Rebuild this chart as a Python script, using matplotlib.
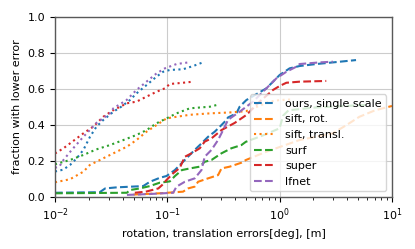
import numpy as np
import matplotlib
matplotlib.use("Agg")
import matplotlib.pyplot as plt

# rotation errors (dashed) per method
ours_rot_x = [0.01, 0.025, 0.028, 0.0355, 0.061, 0.070, 0.0857, 0.0984, 0.1167, 0.1432, 0.1754, 0.2014,
              0.2307, 0.2642, 0.3034, 0.3357, 0.3467, 0.4121, 0.4406, 0.5058, 0.7621, 1.0, 1.227, 1.507,
              2.118, 2.979, 4.786]
ours_rot_y = [0.022, 0.025, 0.046, 0.052, 0.059, 0.083, 0.105, 0.115, 0.148, 0.204, 0.26, 0.296,
              0.333, 0.361, 0.398, 0.426, 0.44, 0.463, 0.5, 0.537, 0.602, 0.676, 0.713, 0.726,
              0.737, 0.746, 0.759]

sift_rot_x = [0.0501, 0.0857, 0.138, 0.1531, 0.1754, 0.1879, 0.2307, 0.2831, 0.3034, 0.3597, 0.4571,
              0.5012, 0.7621, 1.507, 2.979, 3.981, 5.129, 7.079, 10.0]
sift_rot_y = [0.012, 0.019, 0.028, 0.046, 0.056, 0.083, 0.102, 0.12, 0.157, 0.167, 0.189,
              0.204, 0.25, 0.315, 0.352, 0.4, 0.444, 0.48, 0.504]

surf_rot_x = [0.01, 0.0437, 0.0464, 0.057, 0.0698, 0.0857, 0.1052, 0.117, 0.1349, 0.1585, 0.1945,
              0.2153, 0.2472, 0.3034, 0.3715, 0.4571, 0.5, 0.7079, 1.0, 1.072, 1.2, 2.0, 5.888]
surf_rot_y = [0.019, 0.022, 0.037, 0.046, 0.059, 0.078, 0.085, 0.115, 0.148, 0.157, 0.167,
              0.194, 0.204, 0.241, 0.269, 0.287, 0.305, 0.34, 0.38, 0.45, 0.48, 0.495, 0.51]

super_rot_x = [0.0514, 0.0643, 0.0832, 0.09, 0.0984, 0.1127, 0.1291, 0.1432, 0.1641, 0.1945, 0.2153,
               0.2472, 0.3034, 0.3981, 0.5058, 0.6637, 0.873, 1.0, 1.148, 1.507, 2.6]
super_rot_y = [0.022, 0.028, 0.046, 0.065, 0.093, 0.13, 0.16, 0.222, 0.241, 0.269, 0.306,
               0.324, 0.37, 0.41, 0.454, 0.528, 0.593, 0.615, 0.633, 0.639, 0.643]

lfnet_rot_x = [0.0437, 0.07, 0.0984, 0.1127, 0.1208, 0.1432, 0.1754, 0.2014, 0.2153, 0.2472, 0.2831,
               0.3034, 0.3243, 0.3467, 0.3715, 0.4406, 0.5794, 0.7621, 0.9333, 1.148, 1.406, 1.507,
               2.27, 2.979]
lfnet_rot_y = [0.01, 0.015, 0.02, 0.022, 0.056, 0.083, 0.102, 0.148, 0.222, 0.26, 0.315,
               0.352, 0.389, 0.426, 0.44, 0.472, 0.528, 0.602, 0.657, 0.694, 0.722, 0.737,
               0.746, 0.75]

# translation errors (dotted)
ours_tr_x = [0.01, 0.0118, 0.0136, 0.0156, 0.0179, 0.0205, 0.0234, 0.0269, 0.0331, 0.0389, 0.0465,
             0.0532, 0.0653, 0.0802, 0.0918, 0.1052, 0.138, 0.1698, 0.2153]
ours_tr_y = [0.14, 0.15, 0.176, 0.213, 0.26, 0.333, 0.389, 0.426, 0.472, 0.5, 0.537,
             0.574, 0.62, 0.667, 0.694, 0.704, 0.708, 0.726, 0.75]

sift_tr_x = [0.01, 0.0136, 0.0179, 0.0204, 0.0251, 0.0331, 0.0437, 0.0532, 0.0653, 0.0802, 0.0984,
             0.1208, 0.1585, 0.2399, 0.3597, 0.5012, 0.631, 0.8128, 1.0, 1.259]
sift_tr_y = [0.08, 0.097, 0.139, 0.176, 0.204, 0.241, 0.278, 0.315, 0.361, 0.398, 0.435,
             0.444, 0.455, 0.463, 0.468, 0.475, 0.5, 0.528, 0.537, 0.54]

surf_tr_x = [0.01, 0.0136, 0.0179, 0.0234, 0.0309, 0.0407, 0.0532, 0.0653, 0.0802, 0.0984, 0.1208,
             0.1585, 0.2399, 0.2735]
surf_tr_y = [0.18, 0.204, 0.232, 0.263, 0.287, 0.315, 0.343, 0.37, 0.408, 0.435, 0.463,
             0.491, 0.5, 0.509]

super_tr_x = [0.01, 0.0119, 0.0136, 0.0156, 0.0179, 0.0219, 0.0269, 0.0331, 0.0437, 0.0532, 0.0653,
              0.0802, 0.0951, 0.1052, 0.138, 0.1698]
super_tr_y = [0.24, 0.269, 0.296, 0.324, 0.352, 0.389, 0.444, 0.481, 0.519, 0.528, 0.556,
              0.583, 0.602, 0.626, 0.633, 0.639]

lfnet_tr_x = [0.01, 0.011, 0.0119, 0.0141, 0.0179, 0.0204, 0.0234, 0.0309, 0.0331, 0.0434, 0.0532,
              0.0653, 0.0802, 0.0951, 0.1208, 0.1585]
lfnet_tr_y = [0.16, 0.17, 0.204, 0.26, 0.333, 0.37, 0.41, 0.463, 0.491, 0.537, 0.593,
              0.639, 0.685, 0.713, 0.737, 0.747]

plt.rcParams["font.size"] = 8

fig = plt.figure(figsize=(4.15, 2.49), dpi=100)
ax = fig.add_axes([0.1325, 0.21, 0.812, 0.723])

ax.plot(ours_rot_x, ours_rot_y, "--", color="C0", label="ours, single scale")
ax.plot(ours_tr_x, ours_tr_y, ":", color="C0")
ax.plot(sift_rot_x, sift_rot_y, "--", color="C1", label="sift, rot.")
ax.plot(sift_tr_x, sift_tr_y, ":", color="C1", label="sift, transl.")
ax.plot(surf_rot_x, surf_rot_y, "--", color="C2", label="surf")
ax.plot(surf_tr_x, surf_tr_y, ":", color="C2")
ax.plot(super_rot_x, super_rot_y, "--", color="C3", label="super")
ax.plot(super_tr_x, super_tr_y, ":", color="C3")
ax.plot(lfnet_rot_x, lfnet_rot_y, "--", color="C4", label="lfnet")
ax.plot(lfnet_tr_x, lfnet_tr_y, ":", color="C4")

ax.set_xscale("log")
ax.set_xlim(0.01, 10)
ax.set_ylim(0, 1)
ax.grid(True, color="0.8", linewidth=0.8)
for s in ax.spines.values():
    s.set_color("0.35")
    s.set_linewidth(1.0)
ax.set_xlabel("rotation, translation errors[deg], [m]")
ax.set_ylabel("fraction with lower error")
ax.legend(loc="lower right")

fig.savefig("out.png", dpi=100)
